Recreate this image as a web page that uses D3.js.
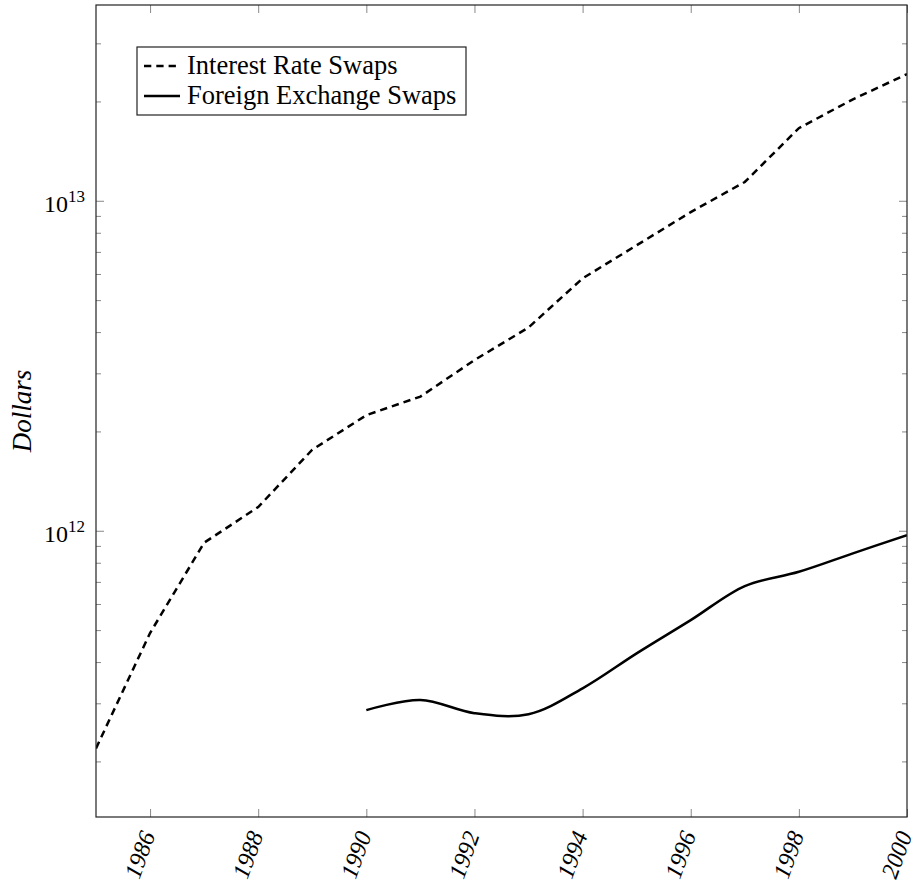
<!DOCTYPE html>
<html>
    <head>
        <meta charset="utf-8">
        <title>Swaps</title>
        <style>
            body { margin: 0; background: #fff; }
            svg { display: block; }
            .chart text {
                font-family: "Liberation Serif", "Times New Roman", serif;
                fill: black;
            }
            .chart .tick line { stroke: #888; stroke-width: 1; }
            .chart .domain { display: none; }
        </style>
    </head>
    <body>
        <svg class="chart" width="917" height="888"></svg>
        <script src="https://d3js.org/d3.v7.min.js"></script>
        <script>

            // values
            var years = [1985, 1986, 1987, 1988, 1989, 1990, 1991, 1992, 1993, 1994, 1995, 1996, 1997, 1998, 1999, 2000];
            var interestRateSwaps = [2.19e11, 4.9e11, 9.2e11, 1.18e12, 1.76e12, 2.24e12, 2.55e12, 3.29e12, 4.13e12, 5.82e12, 7.33e12, 9.24e12, 1.14e13, 1.66e13, 2.03e13, 2.42e13];
            var fxYears = [1990, 1991, 1992, 1993, 1994, 1995, 1996, 1997, 1998, 1999, 2000];
            var foreignExchangeSwaps = [2.86e11, 3.07e11, 2.80e11, 2.78e11, 3.33e11, 4.25e11, 5.36e11, 6.80e11, 7.51e11, 8.54e11, 9.70e11];
            var xTickYears = [1986, 1988, 1990, 1992, 1994, 1996, 1998, 2000];
            var legendLabels = ["Interest Rate Swaps", "Foreign Exchange Swaps"];

            var plotLeft = 96, plotRight = 907, plotTop = 5, plotBottom = 817;

            var chart = d3.select('.chart');

            var x = d3.scaleLinear()
                .domain([1985, 2000])
                .range([plotLeft, plotRight]);

            var y = d3.scaleLog()
                .domain([1.357e11, 3.92e13])
                .range([plotBottom, plotTop]);

            var allY = y.ticks();
            var majorY = allY.filter(function(v) { return Math.abs(Math.log10(v) - Math.round(Math.log10(v))) < 1e-9; });
            var minorY = allY.filter(function(v) { return majorY.indexOf(v) < 0; });

            // ticks, all pointing inward
            chart.append('g')
                .attr('transform', 'translate(0,' + plotBottom + ')')
                .call(d3.axisBottom(x).tickValues(xTickYears).tickSize(-8).tickFormat(d3.format('d')))
                .call(function(g) {
                    g.selectAll('text')
                        .attr('x', 0).attr('y', 0).attr('dy', 0)
                        .attr('transform', 'translate(5,18) rotate(-70)')
                        .style('text-anchor', 'end')
                        .style('font-size', '24px')
                        .style('font-style', 'italic');
                });

            chart.append('g')
                .attr('transform', 'translate(0,' + plotTop + ')')
                .call(d3.axisTop(x).tickValues(xTickYears).tickSize(-8).tickFormat(''));

            chart.append('g')
                .attr('transform', 'translate(' + plotLeft + ',0)')
                .call(d3.axisLeft(y).tickValues(majorY).tickSize(-8).tickFormat(''));
            chart.append('g')
                .attr('transform', 'translate(' + plotLeft + ',0)')
                .call(d3.axisLeft(y).tickValues(minorY).tickSize(-5).tickFormat(''));
            chart.append('g')
                .attr('transform', 'translate(' + plotRight + ',0)')
                .call(d3.axisRight(y).tickValues(majorY).tickSize(-8).tickFormat(''));
            chart.append('g')
                .attr('transform', 'translate(' + plotRight + ',0)')
                .call(d3.axisRight(y).tickValues(minorY).tickSize(-5).tickFormat(''));

            // y labels as 10^n
            var yLabels = chart.append('g').selectAll('text')
                .data(majorY)
                .enter()
                .append('text')
                .attr('x', plotLeft - 11)
                .attr('y', function(d) { return y(d) + 11; })
                .style('text-anchor', 'end')
                .style('font-size', '24px');
            yLabels.append('tspan').text('10');
            yLabels.append('tspan')
                .attr('dy', -10)
                .style('font-size', '17px')
                .text(function(d) { return Math.round(Math.log10(d)); });

            chart.append('text')
                .attr('transform', 'translate(31,' + ((plotTop + plotBottom) / 2) + ') rotate(-90)')
                .style('text-anchor', 'middle')
                .style('font-size', '27px')
                .style('font-style', 'italic')
                .text('Dollars');

            // lines
            var dashedLine = d3.line()
                .x(function(d) { return x(d[0]); })
                .y(function(d) { return y(d[1]); });

            var smoothLine = d3.line()
                .x(function(d) { return x(d[0]); })
                .y(function(d) { return y(d[1]); })
                .curve(d3.curveCatmullRom.alpha(0.5));

            chart.append('clipPath').attr('id', 'plot')
                .append('rect')
                .attr('x', plotLeft).attr('y', plotTop)
                .attr('width', plotRight - plotLeft).attr('height', plotBottom - plotTop);

            chart.append('path')
                .datum(d3.zip(years, interestRateSwaps))
                .attr('clip-path', 'url(#plot)')
                .attr('d', dashedLine)
                .attr('fill', 'none')
                .attr('stroke', 'black')
                .attr('stroke-width', 2.5)
                .attr('stroke-dasharray', '7.3,5');

            chart.append('path')
                .datum(d3.zip(fxYears, foreignExchangeSwaps))
                .attr('clip-path', 'url(#plot)')
                .attr('d', smoothLine)
                .attr('fill', 'none')
                .attr('stroke', 'black')
                .attr('stroke-width', 2.5);

            // frame
            chart.append('rect')
                .attr('x', plotLeft).attr('y', plotTop)
                .attr('width', plotRight - plotLeft).attr('height', plotBottom - plotTop)
                .attr('fill', 'none')
                .attr('stroke', '#222')
                .attr('stroke-width', 1.2);

            // legend
            var legend = chart.append('g');
            legend.append('rect')
                .attr('x', 137).attr('y', 47)
                .attr('width', 329).attr('height', 68)
                .attr('fill', 'white')
                .attr('stroke', '#222')
                .attr('stroke-width', 1.2);

            var rows = legend.selectAll('g.row')
                .data(legendLabels)
                .enter()
                .append('g')
                .attr('class', 'row')
                .attr('transform', function(d, i) { return 'translate(0,' + (66 + i * 30) + ')'; });

            rows.append('line')
                .attr('x1', 144).attr('x2', 180)
                .attr('y1', 0).attr('y2', 0)
                .attr('stroke', 'black')
                .attr('stroke-width', 2.5)
                .attr('stroke-dasharray', function(d, i) { return i == 0 ? '7.3,5' : null; });

            rows.append('text')
                .attr('x', 187)
                .attr('y', 8)
                .style('font-size', '26.5px')
                .text(function(d) { return d; });

        </script>
    </body>
</html>
